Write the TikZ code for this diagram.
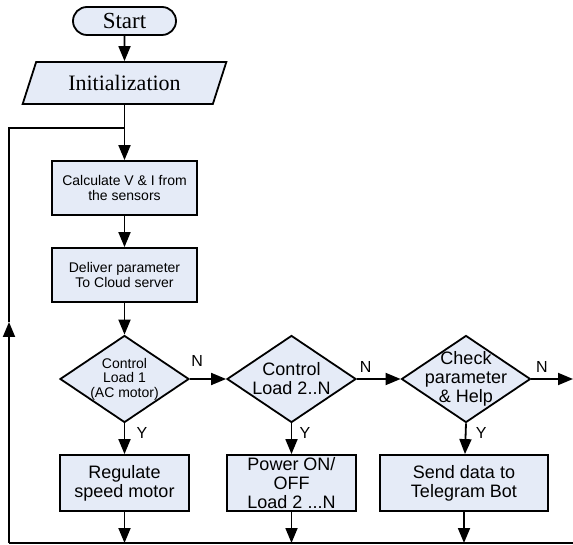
\documentclass[tikz,border=0pt]{standalone}
\usepackage{fontspec}
\setmainfont{Liberation Serif}
\setsansfont{Liberation Sans}
\usepackage{tikz}
\usetikzlibrary{arrows.meta,shapes.geometric,shapes.misc}
\definecolor{boxfill}{RGB}{229,235,247}
\tikzset{
  fcnode/.style = {align=center, inner sep=0pt, text centered, draw=black,
    fill=boxfill, line width=1.8pt},
  fc_term/.style = {fcnode, rounded rectangle, minimum width=103pt,
    minimum height=28pt, font=\fontsize{23}{24}\selectfont\rmfamily},% start
  fc_io/.style = {fcnode, trapezium, trapezium left angle=61,
    trapezium right angle=119, trapezium stretches=true,
    minimum width=204pt, minimum height=42pt,
    font=\fontsize{22}{24}\selectfont\rmfamily},% entree / sortie
  fc_proc/.style = {fcnode, rectangle, minimum height=54pt},% traitement
  fc_dec/.style = {fcnode, diamond, minimum width=129pt,
    minimum height=87pt},% decision
  small/.style = {align=center, font=\fontsize{14}{14.5}\selectfont\sffamily},
  big/.style = {align=center, font=\fontsize{18}{19}\selectfont\sffamily},
  yn/.style = {font=\fontsize{16}{16}\selectfont\sffamily}
}

\begin{document}
\begin{tikzpicture}[x=1pt, y=-1pt, line width=1.8pt,
  >={Triangle[length=15pt,width=12pt]}]
\useasboundingbox (0,0) rectangle (573,545);
\node [fc_term] (start) at (124.5,21) {Start};
\node [fc_io] (init) at (124.5,83) {Initialization};
\node [fc_proc, small, minimum width=145pt] (calc) at (124.5,188)
  {Calculate V \& I from\\the sensors};
\node [fc_proc, small, minimum width=145pt] (cloud) at (124.5,275)
  {Deliver parameter\\To Cloud server};
\node [fc_dec, label={[small]center:Control\\Load 1\\(AC motor)}] (load1)
  at (124.5,379) {};
\node [fc_dec, label={[big]center:Control\\Load 2..N}] (loadn)
  at (291.5,379) {};
\node [fc_dec, label={[big]center:Check\\parameter\\\& Help}] (help)
  at (466,379) {};
\node [fc_proc, big, minimum width=129pt, minimum height=56pt] (motor)
  at (124.5,483) {Regulate\\speed motor};
\node [fc_proc, big, minimum width=129pt, minimum height=56pt] (power)
  at (291.5,483) {Power ON/\\OFF\\Load 2 ...N};
\node [fc_proc, big, minimum width=168pt, minimum height=56pt] (bot)
  at (464,483) {Send data to\\Telegram Bot};
% retour
\coordinate (join) at (124.5,128);
\coordinate (bl) at (9,543);
\coordinate (br) at (573,543);
\coordinate (up) at (9,322);
\coordinate (exit) at (573,379);

\draw[->] (start) -- (init);
\draw (init) -- (join);
\draw[->] (join) -- (calc);
\draw[->] (calc) -- (cloud);
\draw[->] (cloud) -- (load1);
\draw[->] (load1) -- node[yn, pos=0.2, above=8pt] {N} (loadn);
\draw[->] (loadn) -- node[yn, pos=0.2, above=2pt] {N} (help);
\draw[->] (help.east) -- node[yn, pos=0.25, above=2pt] {N} (exit);
\draw[->] (load1.south) -- node[yn, pos=0.3, right=8pt] {Y} (motor);
\draw[->] (loadn.south) -- node[yn, pos=0.3, right=4pt] {Y} (power);
\draw[->] (help.south) -- node[yn, pos=0.3, right=6pt] {Y} (bot);
\draw[->] (motor) -- (motor |- bl);
\draw[->] (power) -- (power |- bl);
\draw[->] (bot) -- (bot |- bl);
\draw (bl) -- (br);
\draw[->] (bl) -- (up);
\draw (up) |- (join);
\end{tikzpicture}
\end{document}
